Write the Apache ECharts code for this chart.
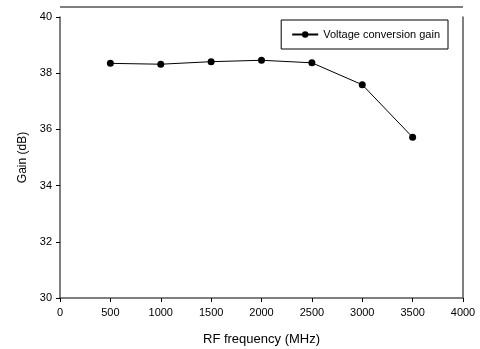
<!DOCTYPE html>
<html>
<head>
<meta charset="UTF-8">
<title>Gain vs RF frequency</title>
<script src="https://cdn.jsdelivr.net/npm/echarts@6/dist/echarts.min.js"></script>
</head>
<body style="margin:0">
	<div id="main" style="width: 480px;height:349px;"></div>
	<script type="text/javascript">
	var freq = [500, 1000, 1500, 2000, 2500, 3000, 3500];
	var gain = [38.35, 38.32, 38.41, 38.46, 38.37, 37.59, 35.72];
	var seriesName = 'Voltage conversion gain';

	var myChart = echarts.init(document.getElementById('main'));
	var font = 'Liberation Sans, Arial, sans-serif';
	var axisCol = '#555';
	myChart.setOption({
		animation: false,
		grid: { left: 60, right: 17, top: 17, bottom: 51, outerBoundsMode: 'none', containLabel: false },
		legend: {
			data: [seriesName],
			right: 32, top: 20,
			orient: 'vertical',
			borderColor: '#000', borderWidth: 1,
			padding: [9, 8, 9, 10],
			itemWidth: 26, itemHeight: 8, itemGap: 0,
			textStyle: { fontFamily: font, fontSize: 11, color: '#000' }
		},
		xAxis: {
			type: 'value', min: 0, max: 4000, interval: 500,
			name: 'RF frequency (MHz)', nameLocation: 'middle', nameGap: 35,
			nameTextStyle: { fontFamily: font, fontSize: 13, color: '#000' },
			axisLine: { lineStyle: { color: axisCol, width: 1.5 } },
			axisTick: { length: 4, lineStyle: { color: '#000' } },
			axisLabel: { fontFamily: font, fontSize: 11, color: '#000', margin: 9,
				formatter: function (v) { return String(v); } },
			splitLine: { show: false }
		},
		yAxis: [{
			type: 'value', min: 30, max: 40, interval: 2,
			name: 'Gain (dB)', nameLocation: 'middle', nameGap: 31,
			nameTextStyle: { fontFamily: font, fontSize: 12, color: '#000' },
			axisLine: { show: true, lineStyle: { color: axisCol, width: 1.5 } },
			axisTick: { show: true, length: 4, lineStyle: { color: '#000' } },
			axisLabel: { fontFamily: font, fontSize: 11, color: '#000', margin: 8 },
			splitLine: { show: false }
		}, {
			type: 'value', min: 30, max: 40, position: 'right',
			axisLine: { show: true, lineStyle: { color: axisCol, width: 1.5 } },
			axisTick: { show: false }, axisLabel: { show: false },
			splitLine: { show: false }
		}],
		graphic: [{
			type: 'line',
			shape: { x1: 60, y1: 7, x2: 463, y2: 7 },
			style: { stroke: axisCol, lineWidth: 1.5 }
		}],
		series: [{
			name: seriesName,
			type: 'line',
			data: freq.map(function (f, i) { return [f, gain[i]]; }),
			symbol: 'circle', symbolSize: 7,
			itemStyle: { color: '#000' },
			lineStyle: { color: '#000', width: 1 }
		}]
	});
	</script>
</body>
</html>
